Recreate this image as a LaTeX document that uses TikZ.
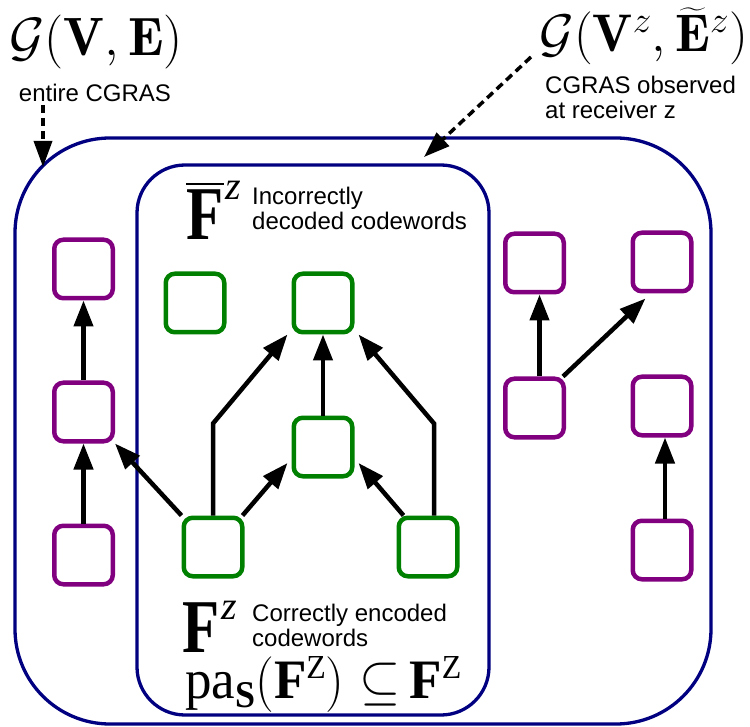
\RequirePackage{fix-cm}
\documentclass[tikz,border=0pt]{standalone}
\usepackage{fontspec}
\usepackage{amsmath}
\usepackage{graphicx}
\usetikzlibrary{arrows.meta}
\newfontfamily\arialf{Liberation Sans}
\newfontfamily\timesf{Liberation Serif}
\definecolor{navyc}{RGB}{0,0,128}
\definecolor{purplec}{RGB}{128,0,128}
\definecolor{greenc}{RGB}{0,128,0}
\tikzset{
 container/.style={draw=navyc, line width=3.3pt, inner sep=0pt, outer sep=0pt},
 pbox/.style={draw=purplec, line width=4.5pt, rounded corners=9pt, minimum width=58.5pt, minimum height=58.5pt, inner sep=0pt},
 gbox/.style={pbox, draw=greenc},
 arr/.style={line width=4.5pt, -{Triangle[length=26pt,width=19pt]}},
 darr/.style={line width=3.5pt, dash pattern=on 8pt off 5pt, -{Triangle[length=26pt,width=18pt]}},
 lbl/.style={font=\arialf\fontsize{24}{25}\selectfont, inner sep=0pt, align=left},
 txt/.style={inner sep=0pt},
}
\begin{document}
\begin{tikzpicture}[x=1pt,y=-1pt]
\useasboundingbox (0,0) rectangle (750,727);
% containers
\node[container, rounded corners=95pt, minimum width=696pt, minimum height=586pt] (outer) at (363,431) {};
\node[container, rounded corners=48pt, minimum width=352pt, minimum height=550pt] (inner) at (313,440) {};
% purple boxes
\node[pbox] (L1) at (83.5,269) {};
\node[pbox] (L2) at (83.5,412) {};
\node[pbox] (L3) at (83.5,555) {};
\node[pbox] (A) at (534.5,263) {};
\node[pbox] (B) at (662,262) {};
\node[pbox] (C) at (534.5,408) {};
\node[pbox] (D) at (662,406) {};
\node[pbox] (E) at (662,550) {};
% green boxes
\node[gbox] (G1) at (195,303) {};
\node[gbox] (G2) at (323,303) {};
\node[gbox] (G3) at (323,447) {};
\node[gbox] (G4) at (213,547) {};
\node[gbox] (G5) at (428,547) {};
% arrows
\draw[arr] (L3) -- (L2);
\draw[arr] (L2) -- (L1);
\draw[arr] ([xshift=5pt]C.north) -- ([xshift=5pt]A.south);
\draw[arr] ([xshift=-3pt]C.north east) -- ([xshift=15pt,yshift=-5pt]B.south west);
\draw[arr] ([xshift=3pt]E.north) -- ([xshift=3pt]D.south);
\draw[arr] (G3) -- (G2);
\draw[arr] (G4.north west) -- (L2.south east);
\draw[arr] ([xshift=-2pt]G4.north east) -- ([xshift=-4pt,yshift=-16pt]G3.west);
\draw[arr] (G4.north) -- ++(0,-92) -- ([xshift=-4pt]G2.south west);
\draw[arr] ([xshift=7pt]G5.north west) -- ([xshift=4pt,yshift=-16pt]G3.east);
\draw[arr] ([xshift=6pt]G5.north) -- ++(0,-92) -- ([xshift=4pt]G2.south east);
% titles
\node[txt, anchor=base west, font=\fontsize{54}{56}\selectfont] (gve) at (9,56) {$\mathcal{G}(\mathbf{V},\mathbf{E})$};
\node[txt, anchor=base east, font=\fontsize{53}{55}\selectfont] (gvz) at (748,52) {$\mathcal{G}(\mathbf{V}^z,\widetilde{\mathbf{E}}^z)$};
\node[lbl, anchor=north] (ent) at (95,84) {entire CGRAS};
\node[lbl, anchor=north west] (obs) at (545,76) {CGRAS observed\\at receiver z};
% dashed arrows
\coordinate (d1s) at (43,105);
\coordinate (d1e) at (43,167);
\coordinate (d2s) at (531,57);
\coordinate (d2e) at (424,157);
\draw[darr] (d1s) -- (d1e);
\draw[darr] (d2s) -- (d2e);
% inner labels
\node[txt, anchor=base west] (Fb) at (186,240) {\scalebox{0.8}[1]{\fontsize{76}{76}\selectfont\timesf\bfseries F}};
\draw[line width=2.8pt] ([yshift=6pt]Fb.north west) -- ([yshift=6pt]Fb.north east);
\node[txt, anchor=base west] (zb) at (225,200) {\fontsize{40}{40}\selectfont\timesf\itshape z};
\node[lbl, anchor=north west] (inc) at (252,187) {Incorrectly\\decoded codewords};
\node[txt, anchor=base west] (Fc) at (182,652) {\scalebox{0.8}[1]{\fontsize{76}{76}\selectfont\timesf\bfseries F}};
\node[txt, anchor=base west] (zc) at (221,619) {\fontsize{40}{40}\selectfont\timesf\itshape z};
\node[lbl, anchor=north west] (cor) at (252,604) {Correctly encoded\\codewords};
\node[txt, anchor=base west] (pas) at (185,698) {\scalebox{1}[1.05]{\fontsize{53}{53}\selectfont\timesf pa\raisebox{-9pt}{\fontsize{36}{36}\selectfont\bfseries S}$($\textbf{F}\raisebox{19pt}{\fontsize{32}{32}\selectfont Z}$)\subseteq$\,\textbf{F}\raisebox{19pt}{\fontsize{32}{32}\selectfont Z}}};
\end{tikzpicture}
\end{document}
